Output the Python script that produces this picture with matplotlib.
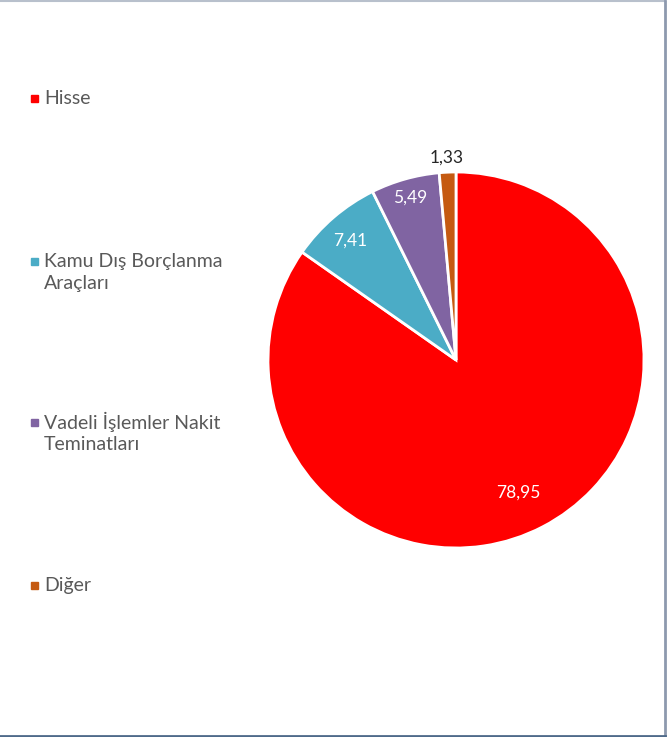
import matplotlib.pyplot as plt
import matplotlib.patches as mpatches
from matplotlib.lines import Line2D
import numpy as np

plt.rcParams['font.family'] = ['Lato', 'DejaVu Sans']

# data
categories = ['Hisse', 'Kamu Dış Borçlanma\nAraçları', 'Vadeli İşlemler Nakit\nTeminatları', 'Diğer']
values = [78.95, 7.41, 5.49, 1.33]
value_labels = ['78,95', '7,41', '5,49', '1,33']
colors = ['#FF0000', '#4BACC6', '#8064A2', '#C55A11']

W, H = 667, 737
fig = plt.figure(figsize=(W / 100, H / 100), dpi=100)

# pie centre (456, 360) px, radius 188 px
cx, cy, r = 456, 360, 188
ax = fig.add_axes([(cx - r) / W, (H - cy - r) / H, 2 * r / W, 2 * r / H])
wedges, _ = ax.pie(values, colors=colors, startangle=90, counterclock=False,
                   radius=1, wedgeprops=dict(edgecolor='white', linewidth=2))
ax.set_xlim(-1, 1)
ax.set_ylim(-1, 1)
ax.set_aspect('equal')
ax.axis('off')

# data labels
label_r = [0.78, 0.86, 0.90, 1.08]
label_c = ['white', 'white', 'white', '#262626']
fracs = np.array(values) / sum(values)
start = 90.0
for i, f in enumerate(fracs):
    mid = start - f * 360 / 2
    start -= f * 360
    a = np.deg2rad(mid)
    rr = label_r[i]
    ax.text(rr * np.cos(a) - (0.03 if i == 0 else 0), rr * np.sin(a) - (0.015 if i < 2 else 0),
            value_labels[i], ha='center', va='center', fontsize=12.5, color=label_c[i])

# legend on the left
leg_y = [98, 261, 422, 585]
for i, name in enumerate(categories):
    y = leg_y[i]
    fig.patches.append(mpatches.Rectangle((31 / W, (H - y - 3.5) / H), 7 / W, 7 / H,
                                          transform=fig.transFigure, color=colors[i]))
    for j, line in enumerate(name.split('\n')):
        fig.text(44 / W, (H - y - 22.5 * j) / H, line, ha='left', va='center',
                 fontsize=14, color='#595959')

# frame (top, right, bottom)
fig.add_artist(Line2D([0, 0.997], [0.999, 0.999], transform=fig.transFigure,
                      color='#B8C0CC', linewidth=1.5))
fig.add_artist(Line2D([0.997, 0.997], [0.002, 0.999], transform=fig.transFigure,
                      color='#8D99AE', linewidth=2))
fig.add_artist(Line2D([0, 0.997], [0.002, 0.002], transform=fig.transFigure,
                      color='#4F6A8A', linewidth=2))

fig.savefig('out.png', dpi=100)
